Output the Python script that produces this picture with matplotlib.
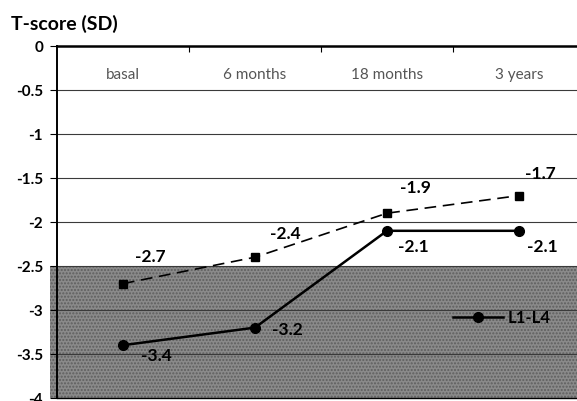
"""T-score (SD) follow-up chart, L1-L4 and a dashed comparison series."""
import matplotlib
matplotlib.use("Agg")
import matplotlib.pyplot as plt
from matplotlib.patches import Rectangle
from matplotlib.lines import Line2D

plt.rcParams['font.family'] = ['Lato', 'DejaVu Sans']

# Data -------------------------------------------------------------------------
categories = ["basal", "6 months", "18 months", "3 years"]
dashed_values = [-2.7, -2.4, -1.9, -1.7]
l1l4_values = [-3.4, -3.2, -2.1, -2.1]
y_ticks = [0, -0.5, -1, -1.5, -2, -2.5, -3, -3.5, -4]
y_tick_labels = ["0", "-0.5", "-1", "-1.5", "-2", "-2.5", "-3", "-3.5", "-4"]
osteoporosis_limit = -2.5

# label offsets in pixels (dx, dy), dy positive = up
dashed_offsets = [(27, 27), (30, 23), (28, 25), (21, 22)]
l1l4_offsets = [(33, -11), (32, -2), (26, -16), (23, -16)]

W, H = 577, 401
fig = plt.figure(figsize=(W / 100, H / 100), dpi=100)
ax = fig.add_axes([57 / W, 3 / H, (585 - 57) / W, (398 - 46) / H])

x = list(range(1, len(categories) + 1))
ax.set_xlim(0.5, len(categories) + 0.5)
ax.set_ylim(-4, 0)

# shaded band below -2.5 -------------------------------------------------------
frac = (osteoporosis_limit - (-4)) / 4
band = Rectangle((-7 / 528, 0), 1.2, frac, transform=ax.transAxes,
                 facecolor='#8a8a8a', edgecolor='#5e5e5e', hatch='.....',
                 linewidth=0, clip_on=False, zorder=0.5)
ax.add_patch(band)

# grid -------------------------------------------------------------------------
for yv in y_ticks[1:]:
    ax.axhline(yv, color='#3a3a3a', linewidth=0.8, zorder=1)

# series -----------------------------------------------------------------------
ax.plot(x, dashed_values, color='black', linestyle=(0, (7, 4)), linewidth=1.2,
        marker='s', markersize=6, zorder=3)
ax.plot(x, l1l4_values, color='black', linewidth=1.8,
        marker='o', markersize=7, zorder=3, label='L1-L4')

px2pt = 72 / 100
for xi, v, (dx, dy) in zip(x, dashed_values, dashed_offsets):
    ax.annotate(f"{v:g}", (xi, v), xytext=(dx * px2pt, dy * px2pt),
                textcoords='offset points', ha='center', va='center',
                fontsize=12.5, fontweight='bold', zorder=4)
for xi, v, (dx, dy) in zip(x, l1l4_values, l1l4_offsets):
    ax.annotate(f"{v:g}", (xi, v), xytext=(dx * px2pt, dy * px2pt),
                textcoords='offset points', ha='center', va='center',
                fontsize=12.5, fontweight='bold', zorder=4)

# category labels inside top of plot -------------------------------------------
for xi, cat in zip(x, categories):
    ax.text(xi, -0.33, cat, ha='center', va='center', fontsize=11,
            color='#555555')

# axes styling -----------------------------------------------------------------
ax.xaxis.tick_top()
ax.set_xticks([1.5, 2.5, 3.5])
ax.set_xticklabels([])
ax.tick_params(axis='x', direction='in', length=4, width=0.8, top=True,
               bottom=False)
ax.set_yticks(y_ticks)
ax.set_yticklabels(y_tick_labels)
ax.tick_params(axis='y', direction='out', length=5, width=0.8, pad=5,
               labelsize=11)
for lab in ax.get_yticklabels():
    lab.set_fontweight('bold')

ax.spines['top'].set_linewidth(1.8)
ax.spines['left'].set_linewidth(1.4)
ax.spines['right'].set_visible(False)
ax.spines['bottom'].set_linewidth(1.0)

fig.text(11 / W, 1 - 24 / H, "T-score (SD)", ha='left', va='center',
         fontsize=14, fontweight='bold')

leg_handle = Line2D([], [], color='black', linewidth=1.8, marker='o',
                    markersize=7)
ax.legend([leg_handle], ['L1-L4'], loc='center left',
          bbox_to_anchor=(453 / W, 1 - 318 / H), bbox_transform=fig.transFigure,
          frameon=False, borderpad=0, borderaxespad=0, handlelength=3.0,
          handletextpad=0.3, prop={'size': 12, 'weight': 'bold'})

fig.savefig("out.png", dpi=100)
